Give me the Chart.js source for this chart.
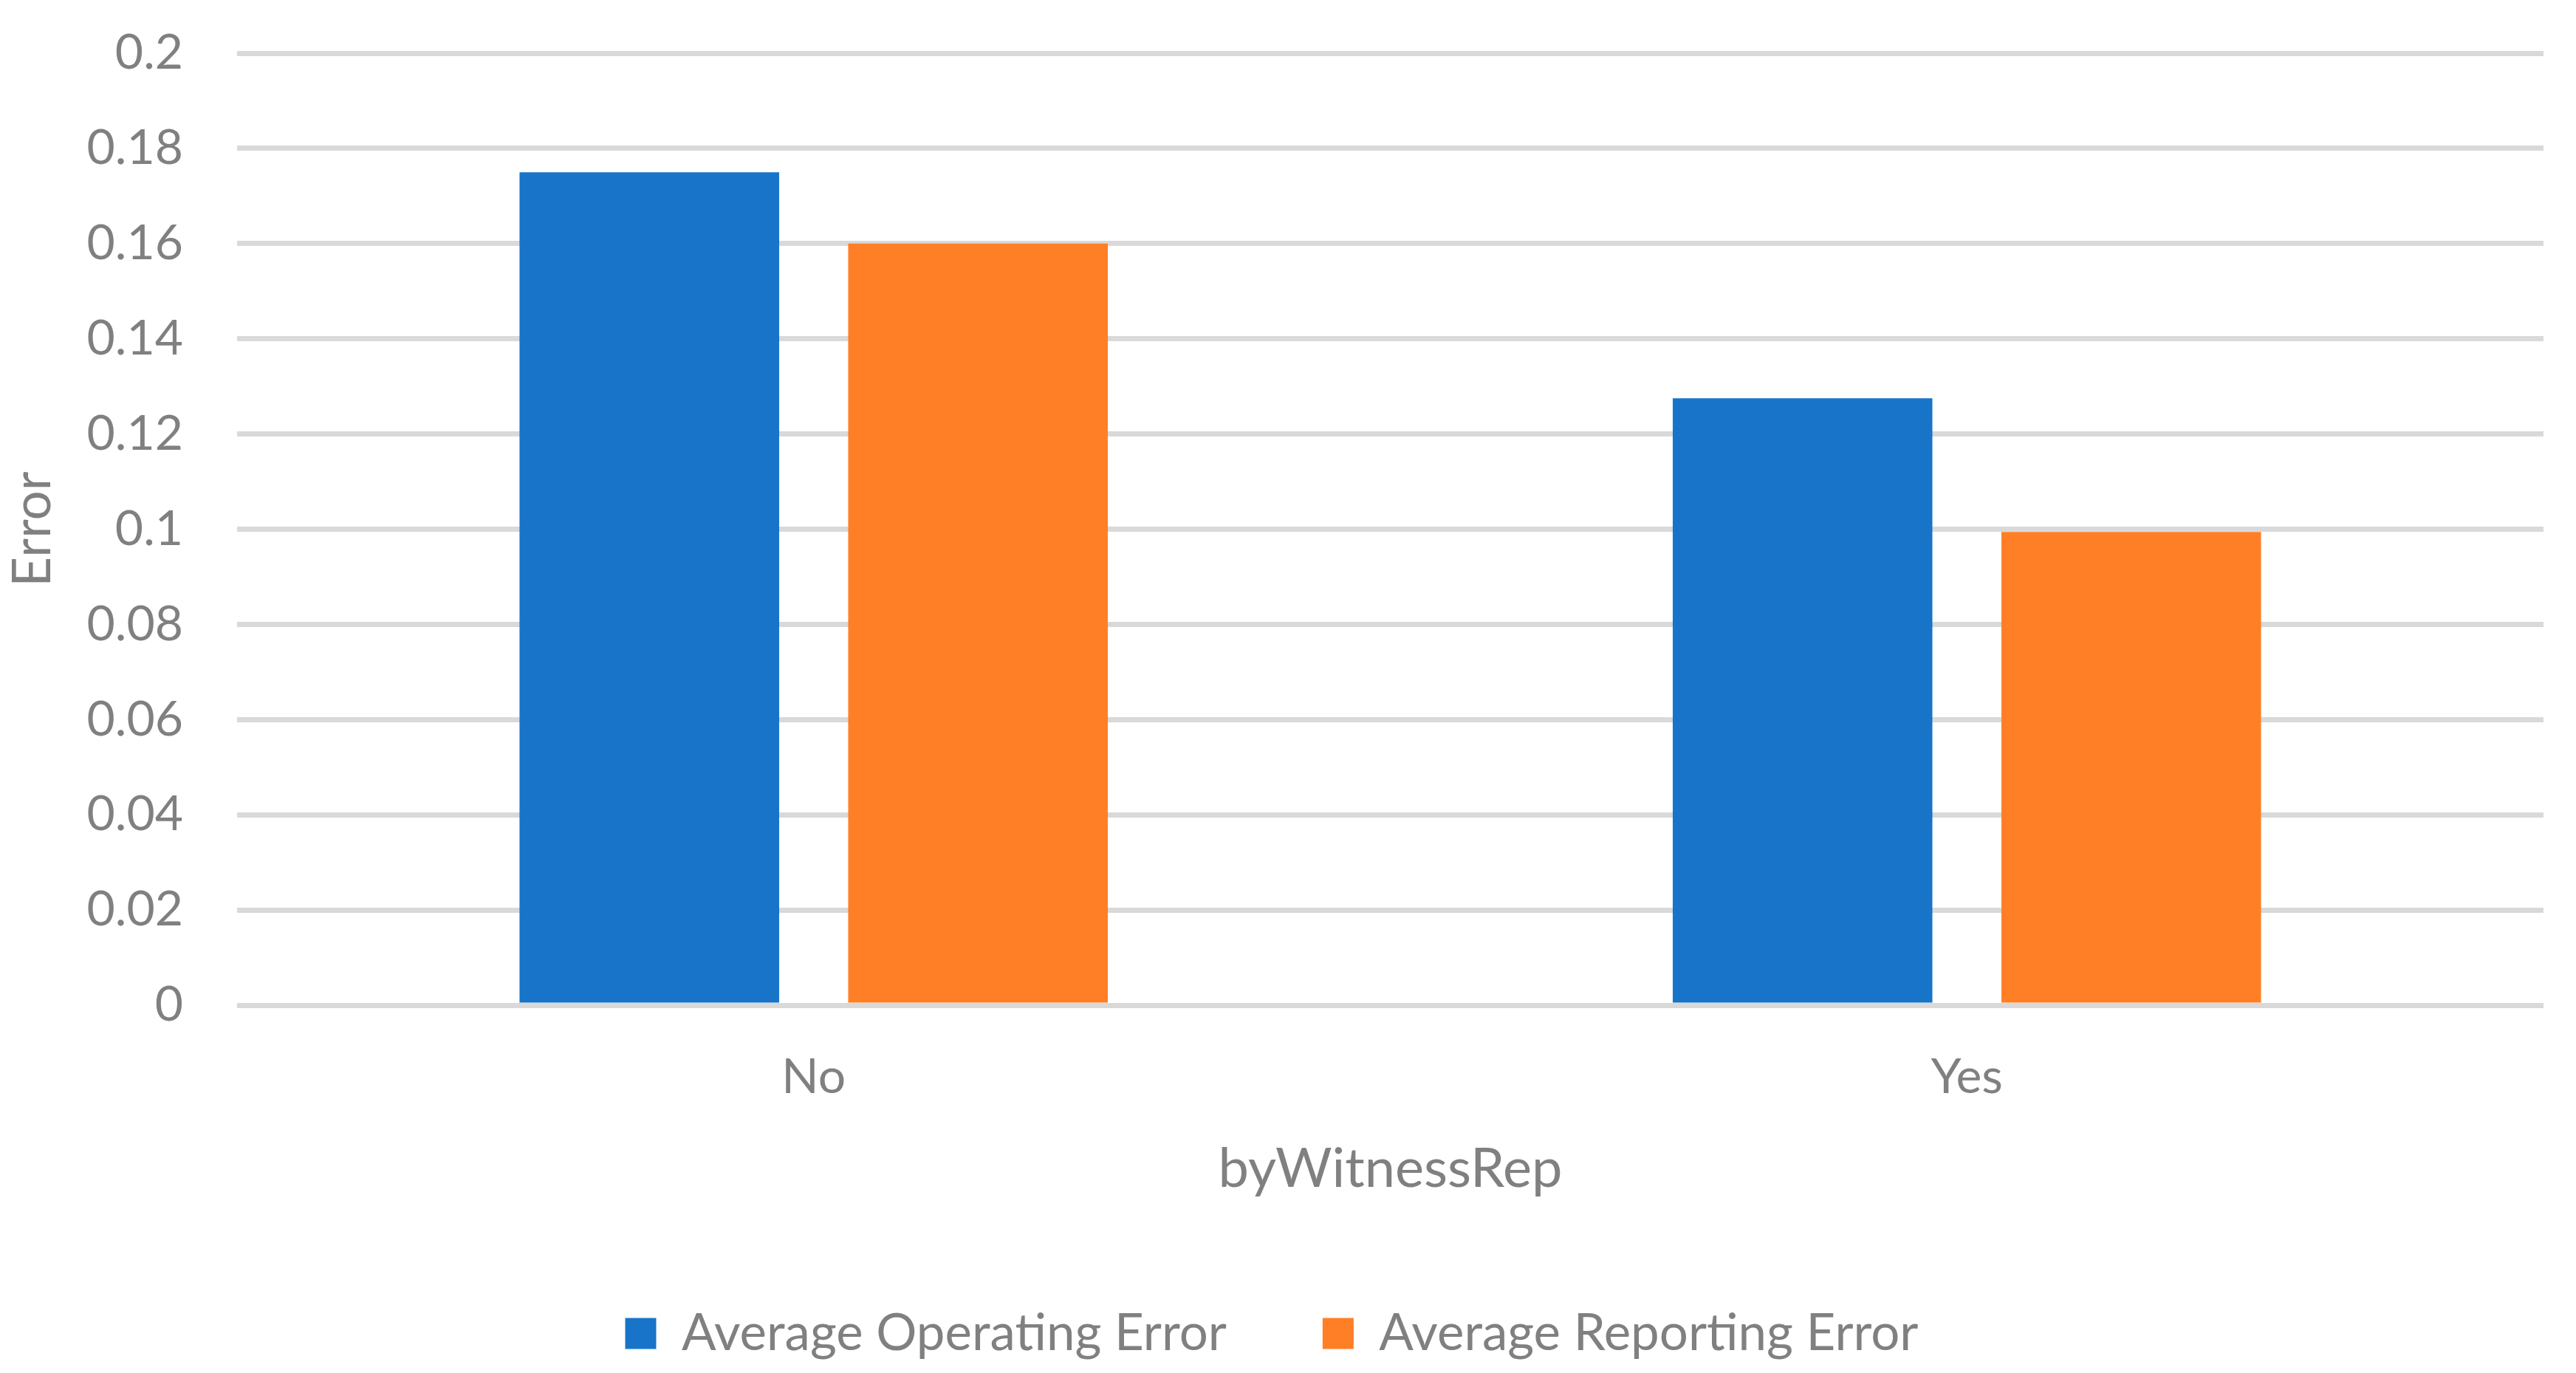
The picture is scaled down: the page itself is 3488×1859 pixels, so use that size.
<!DOCTYPE html>
<html>
<head>
<meta charset="utf-8">
<script src="https://cdn.jsdelivr.net/npm/chart.js@4.4.0/dist/chart.umd.min.js"></script>
<style>
  html, body { margin: 0; padding: 0; background: #ffffff; }
  #wrap { width: 3488px; height: 1859px; }
</style>
</head>
<body>
<div id="wrap"><canvas id="chartErr" width="3488" height="1859"></canvas></div>
<script>
// values
var categories = ['No', 'Yes'];
var operatingError = [0.175, 0.1275];
var reportingError = [0.16, 0.0994];
var seriesNames = ['Average Operating Error', 'Average Reporting Error'];
var xTitle = 'byWitnessRep';
var yTitle = 'Error';

var grey = '#808080';
var fontFamily = 'Lato, "Open Sans", sans-serif';

const ctx = document.getElementById('chartErr').getContext('2d');

const myChart = new Chart(ctx, {
    type: 'bar',
    data: {
        labels: categories,
        datasets: [{
            label: seriesNames[0],
            data: operatingError,
            backgroundColor: '#1874C9',
            categoryPercentage: 0.57,
            barPercentage: 0.79
        },
        {
            label: seriesNames[1],
            data: reportingError,
            backgroundColor: '#FF7F27',
            categoryPercentage: 0.57,
            barPercentage: 0.79
        }]
    },
    options: {
        responsive: false,
        devicePixelRatio: 1,
        animation: false,
        layout: {
            padding: { top: 0, right: 44, left: 0, bottom: 9 }
        },
        plugins: {
            tooltip: { enabled: false },
            legend: {
                position: 'bottom',
                labels: {
                    color: grey,
                    font: { family: fontFamily, size: 69 },
                    boxWidth: 42,
                    boxHeight: 42,
                    padding: 130
                }
            }
        },
        scales: {
            x: {
                grid: { display: false, drawTicks: false },
                border: { display: false },
                ticks: {
                    color: grey,
                    font: { family: fontFamily, size: 66 },
                    padding: 58
                },
                title: {
                    display: true,
                    text: xTitle,
                    color: grey,
                    font: { family: fontFamily, size: 74 },
                    padding: { top: -17, bottom: 13 }
                }
            },
            y: {
                min: 0,
                max: 0.2,
                ticks: {
                    stepSize: 0.02,
                    color: grey,
                    font: { family: fontFamily, size: 66 },
                    padding: 73,
                    callback: function (v) { return +v.toFixed(2); }
                },
                grid: { color: '#D9D9D9', lineWidth: 7, drawTicks: false },
                border: { display: false },
                title: {
                    display: true,
                    text: yTitle,
                    color: grey,
                    font: { family: fontFamily, size: 71 },
                    padding: { top: 3, bottom: 29 }
                },
                afterFit: function (scale) {
                    scale.width = 321;
                    // top of the plot sits at y = 72 like the original
                    scale.paddingTop = 72;
                    scale.paddingBottom = 40;
                }
            }
        }
    }
});
</script>
</body>
</html>
